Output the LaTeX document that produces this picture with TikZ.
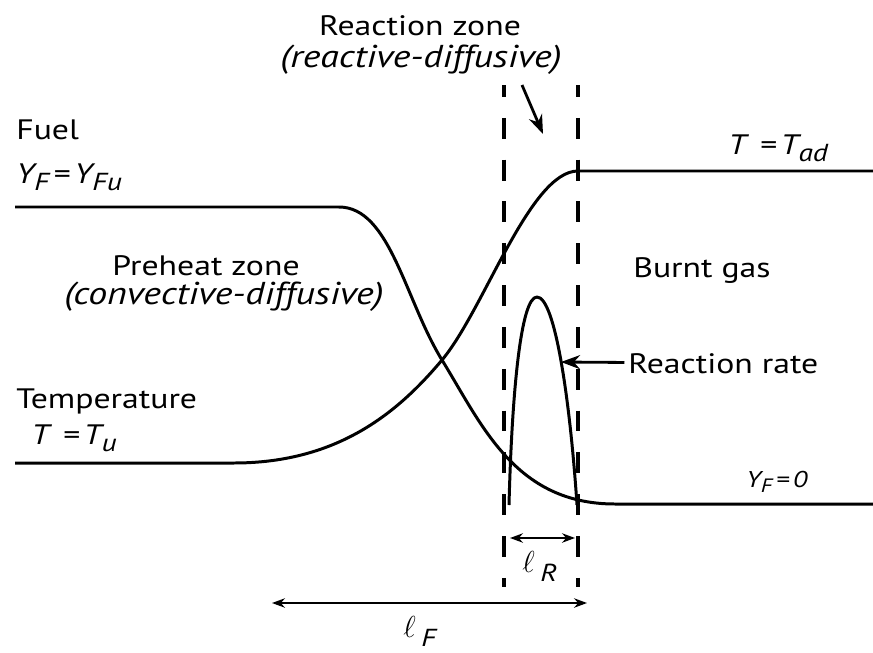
\documentclass[tikz,border=0pt]{standalone}
\usepackage{fontspec}
\setmainfont{PT Sans}[FakeStretch=1.2]
\usepackage{amsmath,amssymb}
\usepackage{tikz}
\usetikzlibrary{arrows.meta,positioning}
\usepackage{xcolor}

\newcommand{\dn}[1]{\raisebox{-0.55ex}{\fontsize{14}{14}\selectfont #1}}
\newcommand{\ellsym}{\fontsize{19}{19}\selectfont$\ell$}

\begin{document}
\begin{tikzpicture}[
  x=0.02cm, y=-0.02cm,
  font=\fontsize{16}{19}\selectfont,
  lbl/.style={inner sep=0pt,anchor=base west},
  clbl/.style={inner sep=0pt,anchor=base},
  itl/.style={font=\fontsize{18}{21}\selectfont\itshape},
  curve/.style={line width=1.7pt,line join=round},
  zone/.style={line width=2.3pt,dash pattern=on 11.9pt off 11.9pt,dash phase=5.1pt},
  arr/.style={-{Stealth[length=3.8mm,width=2.8mm]},line width=1.6pt},
  dim/.style={{Stealth[length=2.6mm,width=1.9mm]}-{Stealth[length=2.6mm,width=1.9mm]},line width=0.8pt}
]
\useasboundingbox (0,0) rectangle (873,653);

% texts
\node[clbl] (rzone) at (420,35) {Reaction zone};
\node[clbl,itl] (rzsub) at (421,67) {(reactive-diffusive)};
\node[lbl] (fuel) at (16,139) {Fuel};
\node[lbl] (yfu) at (16,183) {\textit{Y\dn{F}\,=\,Y\dn{Fu}}};
\node[clbl] (preheat) at (206,275) {Preheat zone};
\node[clbl,itl] (phsub) at (224,304) {(convective-diffusive)};
\node[lbl] (temp) at (16,408) {Temperature};
\node[lbl] (tu) at (31,444) {\textit{T\, =\,T\dn{u}}};
\node[lbl] (tad) at (728,154) {\textit{T\, =\,T\dn{ad}}};
\node[lbl] (burnt) at (633,277) {Burnt gas};
\node[lbl] (rrate) at (628,373) {Reaction rate};
\node[lbl,font=\fontsize{13}{15}\selectfont] (yf0) at (746,487) {\textit{Y\raisebox{-0.5ex}{\fontsize{11}{11}\selectfont F}\,=\,0}};
\node[lbl] (lR) at (522,572) {\ellsym\,\dn{\textit{R}}};
\node[lbl] (lF) at (403,637) {\ellsym\,\dn{\textit{F}}};

% zone limits
\draw[zone] (504,85) -- (504,587);
\draw[zone] (578,85) -- (578,587);

% fuel and temperature profiles
\draw[curve] (15,207) -- (339,207) .. controls (390,207) and (405,300) .. (442,360)
  .. controls (482,425) and (515,504) .. (615,504) -- (873,504);
\draw[curve] (15,463) -- (234,463) .. controls (340,463) and (400,410) .. (442,360)
  .. controls (484,310) and (530,171) .. (578,171) -- (873,171);

% reaction rate
\draw[curve] (509,505) .. controls (512,390) and (521,297) .. (537,297)
  .. controls (555,297) and (570,400) .. (577,505);

% arrows
\coordinate (rzTop) at (522,85);
\coordinate (rzTip) at (543,134);
\draw[arr] (rzTop) -- (rzTip);
\coordinate (rrTip) at (561,362);
\draw[arr] ([xshift=-2pt,yshift=6pt]rrate.base west) -- (rrTip);

% widths
\coordinate (lRa) at (510,538);
\coordinate (lRb) at (575,538);
\draw[dim] (lRa) -- (lRb);
\coordinate (lFa) at (272,603);
\coordinate (lFb) at (587,603);
\draw[dim] (lFa) -- (lFb);
\end{tikzpicture}
\end{document}
